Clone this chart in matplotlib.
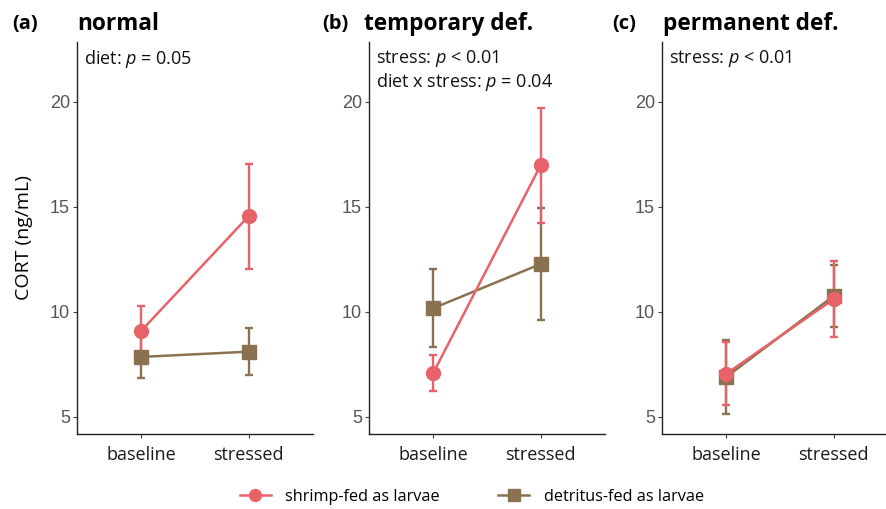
import numpy as np
import matplotlib.pyplot as plt
from matplotlib.lines import Line2D

plt.rcParams['mathtext.fontset'] = 'custom'
plt.rcParams['mathtext.rm'] = 'Open Sans'
plt.rcParams['mathtext.it'] = 'Open Sans:italic'

# Data
conditions = ["baseline", "stressed"]
panels = ["(a)", "(b)", "(c)"]
titles = ["normal", "temporary def.", "permanent def."]
notes = [["diet: $p$ = 0.05"],
         ["stress: $p$ < 0.01", "diet x stress: $p$ = 0.04"],
         ["stress: $p$ < 0.01"]]

shrimp_mean = [[9.1, 14.55], [7.1, 16.97], [7.05, 10.6]]
shrimp_err = [[1.17, 2.5], [0.85, 2.73], [1.5, 1.8]]
detritus_mean = [[7.85, 8.1], [10.17, 12.27], [6.9, 10.75]]
detritus_err = [[1.0, 1.12], [1.87, 2.68], [1.75, 1.48]]

yticks = [5, 10, 15, 20]

shrimp_col = '#e8626a'
detritus_col = '#8a7250'

W, H = 886, 509
fig = plt.figure(figsize=(W / 100, H / 100), dpi=100)

lefts = [77, 369, 662]
top, bottom, width = 42, 434, 236
label_x = [12, 322, 612]
title_x = [77, 364, 663]

x = np.arange(1, 3)
for i in range(3):
    ax = fig.add_axes([lefts[i] / W, (H - bottom) / H, width / W, (bottom - top) / H])
    # error bars first, then lines, then points (ggplot layer order)
    ax.errorbar(x, detritus_mean[i], yerr=detritus_err[i], fmt='none',
                ecolor=detritus_col, elinewidth=1.7, capsize=2.8, capthick=1.7, zorder=2)
    ax.errorbar(x, shrimp_mean[i], yerr=shrimp_err[i], fmt='none',
                ecolor=shrimp_col, elinewidth=1.7, capsize=2.8, capthick=1.7, zorder=2)
    ax.plot(x, detritus_mean[i], color=detritus_col, lw=1.8, zorder=3)
    ax.plot(x, shrimp_mean[i], color=shrimp_col, lw=1.8, zorder=3)
    ax.plot(x, detritus_mean[i], 's', color=detritus_col, ms=9.5, zorder=4)
    ax.plot(x, shrimp_mean[i], 'o', color=shrimp_col, ms=10, zorder=5)

    ax.set_xlim(0.4, 2.6)
    ax.set_ylim(4.18, 22.84)
    ax.set_xticks(x)
    ax.set_xticklabels(conditions, fontsize=13, family='Open Sans', color='#1a1a1a')
    ax.set_yticks(yticks)
    ax.set_yticklabels([str(t) for t in yticks], fontsize=13, family='Liberation Sans', color='#555555')
    ax.tick_params(length=3, width=0.8, color='#444444', pad=2)
    ax.tick_params(axis='x', pad=6)
    for s in ['top', 'right']:
        ax.spines[s].set_visible(False)
    for s in ['left', 'bottom']:
        ax.spines[s].set_linewidth(1.0)
        ax.spines[s].set_color('#222222')

    for j, t in enumerate(notes[i]):
        ax.text(0.03, 0.985 - j * 0.058, t, transform=ax.transAxes, fontsize=13,
                family='Open Sans', va='top', ha='left', color='#111111')

    if i == 0:
        ax.set_ylabel('CORT (ng/mL)', fontsize=14, family='Open Sans', labelpad=12)

    fig.text(label_x[i] / W, 1 - 24 / H, panels[i],
             fontsize=14.5, fontweight='bold', family='Open Sans', va='center', ha='left')
    fig.text(title_x[i] / W, 1 - 24 / H, titles[i],
             fontsize=16.3, fontweight='bold', family='Open Sans', va='center', ha='left')

handles = [Line2D([0], [0], color=shrimp_col, lw=1.8, marker='o', ms=8.5),
           Line2D([0], [0], color=detritus_col, lw=1.8, marker='s', ms=8.5)]
fig.legend(handles, ['shrimp-fed as larvae', 'detritus-fed as larvae'],
           loc='center', bbox_to_anchor=(472 / W, 1 - 497 / H), ncol=2, frameon=False,
           prop={'family': 'Open Sans', 'size': 11.7}, handlelength=1.9, columnspacing=3.6,
           handletextpad=0.9)

fig.savefig('out.png', dpi=100)
